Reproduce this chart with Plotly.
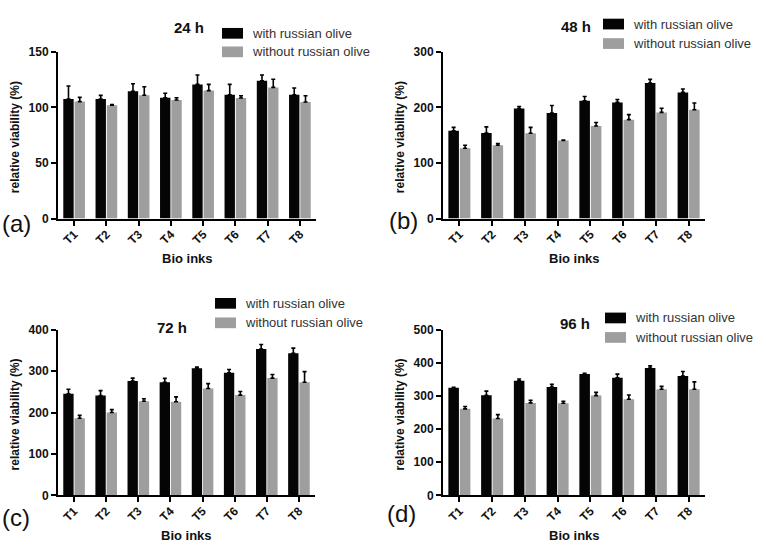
import plotly.graph_objects as go

W, H = 766, 555

categories = ["T1", "T2", "T3", "T4", "T5", "T6", "T7", "T8"]

with_24 = [107.5, 107.5, 114.6, 108.7, 120.7, 111.3, 124.0, 111.3]
with_24_err = [11.7, 3.3, 6.7, 4.1, 8.5, 9.4, 5.2, 6.2]
without_24 = [105.2, 102.0, 111.0, 106.6, 115.1, 108.4, 118.0, 104.9]
without_24_err = [3.8, 0.6, 7.6, 2.1, 5.6, 2.1, 7.3, 5.6]

with_48 = [158, 154, 198, 190, 212, 209, 244, 227]
with_48_err = [6, 11, 3.5, 13.5, 7.7, 5.3, 6.4, 6]
without_48 = [126.5, 132, 153.5, 140.6, 166.4, 178, 191, 195.7]
without_48_err = [5.3, 3, 10.5, 0.6, 6.4, 9, 7.6, 12.3]

with_72 = [245, 241, 276, 273, 307, 296, 353, 343]
with_72_err = [11, 11.7, 7, 9.4, 3, 7.8, 11, 12.5]
without_72 = [186, 200, 227, 226, 258, 242, 283, 273]
without_72_err = [7, 7, 6.3, 11.7, 11.7, 8.6, 8.6, 25.8]

with_96 = [325, 302, 346, 327, 366, 355, 384, 360]
with_96_err = [1, 12.6, 5, 7.8, 2, 10.7, 6.8, 13.6]
without_96 = [261, 232, 279, 278, 301, 290, 320, 320]
without_96_err = [7, 11.7, 7.8, 5.8, 9.7, 12.6, 8.8, 22.4]

titles = ["24 h", "48 h", "72 h", "96 h"]
panel_labels = ["(a)", "(b)", "(c)", "(d)"]
y_maxes = [150, 300, 400, 500]
y_dticks = [50, 100, 100, 100]

BLACK = "#050505"
GREY = "#9e9e9e"
FONT = "Liberation Sans"


def px(x):
    return x / W


def py(y):
    return 1 - y / H


# panel boxes in pixels: (x0, x1, ytop, ybottom)
boxes = [(58, 316, 46, 217), (443, 705, 46, 217),
         (58, 315, 331, 501), (443, 705, 331, 501)]
series = [
    (with_24, with_24_err, without_24, without_24_err),
    (with_48, with_48_err, without_48, without_48_err),
    (with_72, with_72_err, without_72, without_72_err),
    (with_96, with_96_err, without_96, without_96_err),
]

fig = go.Figure()
layout = {}
annotations = []
shapes = []

# title pos, legend pos (square x, row ys), panel label pos
title_pos = [(189, 21), (576, 20), (172, 329), (575, 325)]
legend_pos = [(222, 27, 46), (603, 17.5, 37.5), (215, 304, 324),
              (605, 319, 339)]
label_pos = [(16, 222), (403, 219), (16, 524), (401, 520)]

for i, (box, data) in enumerate(zip(boxes, series)):
    n = "" if i == 0 else str(i + 1)
    xa, ya = "x" + n, "y" + n
    w, we, wo, woe = data
    fig.add_trace(go.Bar(
        x=categories, y=w, xaxis=xa, yaxis=ya, marker_color=BLACK,
        marker_line_width=0, showlegend=False,
        error_y=dict(type="data", symmetric=False, array=we,
                     arrayminus=[0] * len(we), color="black",
                     thickness=1.6, width=2),
    ))
    fig.add_trace(go.Bar(
        x=categories, y=wo, xaxis=xa, yaxis=ya, marker_color=GREY,
        marker_line_width=0, showlegend=False,
        error_y=dict(type="data", symmetric=False, array=woe,
                     arrayminus=[0] * len(woe), color="black",
                     thickness=1.6, width=2),
    ))
    x0, x1, yt, yb = box
    layout["xaxis" + n] = dict(
        domain=[px(x0), px(x1)], anchor=ya, showline=True, linecolor="black",
        linewidth=2, ticks="outside", ticklen=5, tickwidth=2,
        tickcolor="black", tickangle=-45, showgrid=False,
        ticklabelstandoff=-3,
        tickfont=dict(family=FONT, size=12, color="#111", weight="bold"),
    )
    layout["yaxis" + n] = dict(
        domain=[py(yb), py(yt)], anchor=xa, range=[0, y_maxes[i]],
        dtick=y_dticks[i], showline=True, linecolor="black", linewidth=2,
        ticks="outside", ticklen=5, tickwidth=2, tickcolor="black",
        showgrid=False, zeroline=False,
        tickfont=dict(family=FONT, size=12, color="#111", weight="bold"),
    )

    tx, ty = title_pos[i]
    annotations.append(dict(
        x=px(tx), y=py(ty), xref="paper", yref="paper", text=titles[i],
        showarrow=False, xanchor="center", yanchor="middle",
        font=dict(family=FONT, size=15, color="#111", weight="bold")))

    sx, r1, r2 = legend_pos[i]
    for ry, col, txt in [(r1, BLACK, "with russian olive"),
                         (r2, GREY, "without russian olive")]:
        shapes.append(dict(type="rect", xref="paper", yref="paper",
                           x0=px(sx), x1=px(sx + 21), y0=py(ry + 5.5),
                           y1=py(ry - 5.5), fillcolor=col, line_width=0))
        annotations.append(dict(
            x=px(sx + 28), y=py(ry), xref="paper", yref="paper", text=txt,
            showarrow=False, xanchor="left", yanchor="middle",
            font=dict(family=FONT, size=13, color="#333")))

    lx, ly = label_pos[i]
    annotations.append(dict(
        x=px(lx), y=py(ly), xref="paper", yref="paper", text=panel_labels[i],
        showarrow=False, xanchor="center", yanchor="middle",
        font=dict(family=FONT, size=24, color="#111")))

    cx = (x0 + x1) / 2
    annotations.append(dict(
        x=px(cx), y=py(yb + 41), xref="paper", yref="paper",
        text="Bio inks", showarrow=False, xanchor="center",
        yanchor="middle",
        font=dict(family=FONT, size=13, color="#111", weight="bold")))
    annotations.append(dict(
        x=px(x0 - 43), y=py((yt + yb) / 2 + 2), xref="paper", yref="paper",
        text="relative viability (%)", showarrow=False, textangle=-90,
        xanchor="center", yanchor="middle",
        font=dict(family=FONT, size=12, color="#111", weight="bold")))

fig.update_layout(
    **layout,
    width=W, height=H, margin=dict(l=0, r=0, t=0, b=0),
    barmode="group", bargap=0.3, bargroupgap=0.08,
    plot_bgcolor="white", paper_bgcolor="white",
    annotations=annotations, shapes=shapes,
)

# page margin would shift the fixed-size figure off the window
fig.write_html("out.html", config={"displayModeBar": False},
               post_script="document.body.style.margin='0';")
